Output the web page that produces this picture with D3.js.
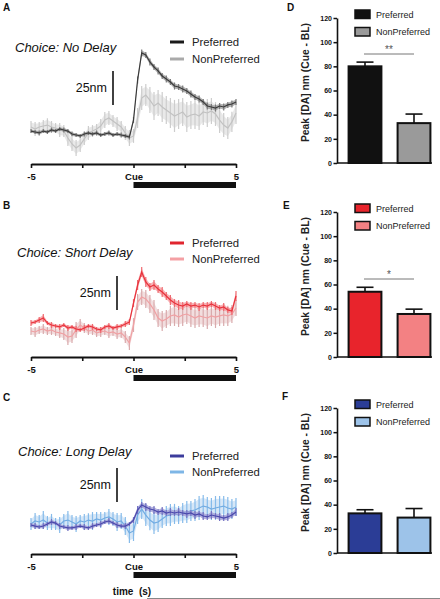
<!DOCTYPE html>
<html>
<head>
<meta charset="utf-8">
<script src="https://cdn.jsdelivr.net/npm/d3@7"></script>
<style>
  html, body { margin: 0; padding: 0; background: #fff; }
  svg { display: block; font-family: "Liberation Sans", Arial, sans-serif; }
</style>
</head>
<body>
<svg id="fig" width="440" height="599"></svg>
<script>
// ---------------- DATA ----------------
const timeSec = [-5,-4.8,-4.6,-4.4,-4.2,-4,-3.8,-3.6,-3.4,-3.2,-3,-2.8,-2.6,-2.4,-2.2,-2,-1.8,-1.6,-1.4,-1.2,-1,-0.8,-0.6,-0.4,-0.2,0,0.2,0.4,0.6,0.8,1,1.2,1.4,1.6,1.8,2,2.2,2.4,2.6,2.8,3,3.2,3.4,3.6,3.8,4,4.2,4.4,4.6,4.8,5];
const timeTicks = [-5, -2.5, 0, 2.5, 5];
const timeTickLabels = ["-5", "", "Cue", "", "5"];

// Panel A: Choice: No Delay (nm)
const noDelayPref = [0.7,0,-0.7,0.7,0,1.5,0.7,2.2,1.5,0.7,-1.5,-2.2,-2.9,-1.5,-0.7,-1.5,-0.7,-2.2,-1.5,-0.7,-2.2,-1.5,-2.2,-2.9,-3.7,8.8,38.2,58.1,56.6,51.5,47.8,44.9,41.2,39,36.8,33.8,33.1,31.6,30.1,27.9,25.7,24.3,22.1,19.1,18.4,17.6,19.1,18.4,19.9,20.6,22.1];
const noDelayPrefSem = [1.5,1.5,1.8,1.5,1.5,1.8,1.5,1.5,1.8,1.5,1.8,1.5,1.5,1.8,1.5,1.5,1.8,1.5,1.5,1.8,1.5,1.5,1.8,1.5,1.8,2.2,2.6,2.6,2.2,2.6,2.2,2.6,2.2,2.6,2.2,2.6,2.2,2.6,2.2,2.6,2.2,2.6,2.2,2.6,2.2,2.6,2.2,2.6,2.2,2.6,2.2];
const noDelayNon = [3.7,2.2,3.7,4.4,5.1,3.7,2.9,1.5,0.7,-4.4,-8.8,-11.8,-9.6,-5.1,-0.7,0.7,2.2,4.4,8.8,10.3,8.1,5.9,3.7,-0.7,-4.4,-2.9,10.3,25,27.2,23.5,19.1,21.3,18.4,16.2,14,11.8,13.2,14.7,11,12.5,13.2,11.8,14.7,14,15.4,13.2,8.8,5.1,2.9,7.4,14];
const noDelayNonSem = [4.4,5.1,3.7,4.4,5.1,4.4,3.7,5.1,4.4,5.9,5.1,5.9,5.1,4.4,5.1,4.4,3.7,5.1,5.9,5.1,4.4,5.1,4.4,5.1,5.9,5.1,7.4,8.8,8.1,9.6,10.3,9.6,11,10.3,11,11.8,11,10.3,11,10.3,11,10.3,9.6,10.3,9.6,8.8,9.6,8.8,8.1,7.4,8.1];

// Panel B: Choice: Short Delay (nm)
const shortDelayPref = [2.2,2.9,4.4,5.9,2.2,0.7,0,-0.7,0.7,-1.5,-0.7,-2.2,-2.9,-1.5,0,-0.7,-2.2,-2.9,-0.7,0,-1.5,-0.7,0,1.5,2.9,16.9,30.1,39.7,32.4,28.7,30.1,27.2,25,22.1,19.1,16.9,15.4,14.7,16.2,14.7,15.4,14,15.4,14.7,16.2,14.7,13.2,14,11.8,11,22.1];
const shortDelayPrefSem = [2.2,1.5,2.2,2.9,1.5,2.2,1.5,2.2,1.5,2.2,1.5,2.2,1.5,2.2,1.5,2.2,1.5,2.2,1.5,2.2,1.5,2.2,1.5,2.2,2.2,2.9,3.7,3.7,3.7,2.9,3.7,2.9,3.7,2.9,3.7,2.9,3.7,2.9,2.2,2.9,2.2,2.9,2.2,2.9,2.2,2.9,2.2,2.9,2.2,2.9,3.7];
const shortDelayNon = [-3.7,-4.4,-2.9,-2.2,-3.7,-2.9,-4.4,-5.1,-5.9,-8.1,-7.4,-2.9,0.7,-1.5,-3.7,-2.9,-5.1,-4.4,-3.7,-5.1,-4.4,-5.9,-5.1,-8.1,-12.5,0.7,17.6,21.3,19.9,16.2,11.8,5.9,3.7,5.1,7.4,8.1,6.6,8.1,8.8,7.4,5.9,7.4,6.6,5.9,7.4,6.6,7.4,8.1,7.4,8.8,13.2];
const shortDelayNonSem = [2.9,3.7,2.9,3.7,2.9,3.7,2.9,3.7,4.4,5.9,5.1,5.9,4.4,3.7,2.9,3.7,2.9,3.7,2.9,3.7,2.9,3.7,3.7,4.4,5.1,5.1,5.9,5.9,6.6,6.6,7.4,6.6,7.4,6.6,7.4,8.1,7.4,8.1,7.4,8.1,7.4,8.1,7.4,8.1,7.4,8.1,7.4,8.1,7.4,6.6,5.9];

// Panel C: Choice: Long Delay (nm)
const longDelayPref = [1.5,0.7,0,0.7,2.2,3.7,2.9,0.7,0,-0.7,-0.7,0,0.7,0,-0.7,0.7,1.5,2.2,3.7,4.4,2.9,1.5,0.7,0.7,2.2,5.1,12.5,16.2,14.7,13.2,12.5,11,11.8,10.3,11,10.3,11,10.3,9.6,10.3,8.8,9.6,8.1,7.4,8.8,8.1,7.4,6.6,7.4,8.8,11];
const longDelayPrefSem = [1.5,2.2,1.5,2.2,1.5,2.2,1.5,2.2,1.5,2.2,1.5,2.2,1.5,2.2,1.5,2.2,1.5,2.2,1.5,2.2,1.5,2.2,1.5,2.2,1.5,2.2,2.9,2.2,2.9,2.2,2.9,2.2,2.9,2.2,2.9,2.2,2.9,2.2,2.9,2.2,2.9,2.2,2.9,2.2,2.9,2.2,2.9,2.2,2.9,2.2,2.9];
const longDelayNon = [2.2,4.4,3.7,5.1,2.9,3.7,2.2,1.5,4.4,5.1,3.7,2.2,4.4,3.7,5.1,4.4,5.9,5.1,6.6,7.4,5.9,3.7,4.4,0.7,-4.4,-2.9,8.8,13.2,8.8,5.1,2.9,3.7,5.9,8.1,8.8,9.6,8.8,10.3,11,11.8,12.5,14,15.4,14.7,13.2,14,14.7,15.4,14,13.2,14.7];
const longDelayNonSem = [4.4,5.9,5.1,6.6,5.1,5.9,4.4,5.9,5.1,6.6,5.1,5.9,4.4,5.9,5.1,6.6,5.1,5.9,4.4,5.9,5.1,6.6,5.9,6.6,7.4,7.4,6.6,7.4,8.1,7.4,8.1,7.4,6.6,7.4,8.1,7.4,6.6,7.4,8.1,7.4,8.1,8.8,8.1,7.4,8.1,8.8,8.1,7.4,8.1,7.4,6.6];

const seriesNames = ["Preferred", "NonPreferred"];
const scaleBarNm = 25;

// Bar panels: Peak [DA] nm (Cue - BL)
const peakTicks = [0, 20, 40, 60, 80, 100, 120];
const peakNoDelay = [80, 33];
const peakNoDelaySem = [3.5, 7.5];
const peakShortDelay = [54, 35.6];
const peakShortDelaySem = [3.7, 4];
const peakLongDelay = [32.8, 29.3];
const peakLongDelaySem = [3, 7.5];

// ---------------- DRAWING ----------------
const svg = d3.select("#fig");
const x = d3.scaleLinear().domain([-5, 5]).range([31, 236]);

const tracePanels = [
  { letter: "A", lx: 3, ly: 10.5, title: "Choice: No Delay", tx: 15, ty: 51.5,
    axisY: 164, baseY: 132, legY: [42, 59], sbX: 113, sbTop: 71,
    pref: noDelayPref, prefSem: noDelayPrefSem, non: noDelayNon, nonSem: noDelayNonSem,
    c: { pl: "#3a3a3a", pe: "#7a7a7a", pa: "#9a9a9a", nl: "#c2c2c2", ne: "#cdcdcd", na: "#e2e2e2", lp: "#1a1a1a", ln: "#aaaaaa" } },
  { letter: "B", lx: 3, ly: 208.5, title: "Choice: Short Delay", tx: 17, ty: 257,
    axisY: 357, baseY: 326, legY: [243, 259], sbX: 117, sbTop: 276,
    pref: shortDelayPref, prefSem: shortDelayPrefSem, non: shortDelayNon, nonSem: shortDelayNonSem,
    c: { pl: "#e8323c", pe: "#ef6a70", pa: "#f59a9d", nl: "#f0a0a3", ne: "#d9aaac", na: "#eed3d4", lp: "#e0252e", ln: "#f4a0a4" } },
  { letter: "C", lx: 3, ly: 400.5, title: "Choice: Long Delay", tx: 18, ty: 456,
    axisY: 554, baseY: 527, legY: [456, 472], sbX: 117, sbTop: 468,
    pref: longDelayPref, prefSem: longDelayPrefSem, non: longDelayNon, nonSem: longDelayNonSem,
    c: { pl: "#4a48ac", pe: "#7472c2", pa: "#9c9ad4", nl: "#72ace2", ne: "#86bbea", na: "#c8dff4", lp: "#3c3c9c", ln: "#7eb6e6" } }
];

tracePanels.forEach(p => {
  const g = svg.append("g");
  const y = d3.scaleLinear().domain([0, 25]).range([p.baseY, p.baseY - 34]);

  g.append("text").attr("x", p.lx).attr("y", p.ly).attr("font-size", 10).attr("font-weight", "bold")
    .attr("fill", "#111").text(p.letter);
  g.append("text").attr("x", p.tx).attr("y", p.ty).attr("font-size", 13).attr("font-style", "italic")
    .attr("fill", "#111").text(p.title);

  // legend
  seriesNames.forEach((name, i) => {
    g.append("line").attr("x1", 170).attr("x2", 184).attr("y1", p.legY[i]).attr("y2", p.legY[i])
      .attr("stroke", i === 0 ? p.c.lp : p.c.ln).attr("stroke-width", 3);
    g.append("text").attr("x", 192).attr("y", p.legY[i]).attr("dy", "0.35em").attr("font-size", 11.3)
      .attr("fill", "#222").text(name);
  });

  // scale bar (25 nm)
  g.append("line").attr("x1", p.sbX).attr("x2", p.sbX)
    .attr("y1", p.sbTop).attr("y2", p.sbTop + (y(0) - y(scaleBarNm)))
    .attr("stroke", "#111").attr("stroke-width", 1.6);
  g.append("text").attr("x", p.sbX - 6).attr("y", p.sbTop + (y(0) - y(scaleBarNm)) / 2).attr("dy", "0.35em")
    .attr("text-anchor", "end").attr("font-size", 12.5).attr("fill", "#111").text("25nm");

  const drawBand = (vals, sem, errCol, areaCol) => {
    g.append("path").datum(timeSec)
      .attr("d", d3.area().x(d => x(d)).y0((d, i) => y(vals[i] - sem[i] * 0.75)).y1((d, i) => y(vals[i] + sem[i] * 0.75)))
      .attr("fill", areaCol).attr("opacity", 0.75);
    g.append("g").selectAll("line").data(timeSec).join("line")
      .attr("x1", (d) => x(d)).attr("x2", (d) => x(d))
      .attr("y1", (d, i) => y(vals[i] - sem[i])).attr("y2", (d, i) => y(vals[i] + sem[i]))
      .attr("stroke", errCol).attr("stroke-width", 1.2);
  };
  const drawMean = (vals, lineCol) => {
    g.append("path").datum(timeSec)
      .attr("d", d3.line().x(d => x(d)).y((d, i) => y(vals[i])))
      .attr("fill", "none").attr("stroke", lineCol).attr("stroke-width", 1.2);
  };
  drawBand(p.non, p.nonSem, p.c.ne, p.c.na);
  drawMean(p.non, p.c.nl);
  drawBand(p.pref, p.prefSem, p.c.pe, p.c.pa);
  drawMean(p.pref, p.c.pl);

  // x axis
  const ax = g.append("g").attr("transform", `translate(0,${p.axisY})`)
    .call(d3.axisBottom(x).tickValues(timeTicks).tickSizeInner(4).tickSizeOuter(0)
      .tickFormat((d, i) => timeTickLabels[i]));
  ax.select(".domain").attr("stroke", "#111").attr("stroke-width", 1.8);
  ax.selectAll(".tick line").attr("stroke", "#111").attr("stroke-width", 1.6);
  ax.selectAll(".tick text").attr("y", 9).attr("font-size", 9.5).attr("font-weight", "bold")
    .attr("fill", "#111").attr("font-family", "Liberation Sans, Arial, sans-serif");

  // cue period bar
  g.append("rect").attr("x", x(0)).attr("width", x(5) - x(0)).attr("y", p.axisY + 18).attr("height", 6)
    .attr("fill", "#111");
});

svg.append("text").attr("x", 132).attr("y", 595).attr("text-anchor", "middle")
  .attr("font-size", 10).attr("font-weight", "bold").attr("fill", "#111")
  .style("white-space", "pre").text("time  (s)");

// bar panels
const barPanels = [
  { letter: "D", lx: 287, ly: 10.5, y0: 163, vals: peakNoDelay, sem: peakNoDelaySem,
    fills: ["#111111", "#9a9a9a"], legY: 10, sig: "**", sigY: 54 },
  { letter: "E", lx: 283, ly: 208.5, y0: 357, vals: peakShortDelay, sem: peakShortDelaySem,
    fills: ["#e8242c", "#f38183"], legY: 204, sig: "*", sigY: 279 },
  { letter: "F", lx: 282, ly: 399.5, y0: 553, vals: peakLongDelay, sem: peakLongDelaySem,
    fills: ["#2b3d96", "#9dc3e9"], legY: 400, sig: null }
];
const bx = d3.scaleBand().domain(seriesNames).range([340.5, 438.5]).paddingInner(0.33).paddingOuter(0.165);

barPanels.forEach(p => {
  const g = svg.append("g");
  const y = d3.scaleLinear().domain([0, 120]).range([p.y0, p.y0 - 145]);
  g.append("text").attr("x", p.lx).attr("y", p.ly).attr("font-size", 10).attr("font-weight", "bold")
    .attr("fill", "#111").text(p.letter);

  // bars
  g.selectAll("rect.bar").data(seriesNames).join("rect").attr("class", "bar")
    .attr("x", d => bx(d)).attr("width", bx.bandwidth())
    .attr("y", (d, i) => y(p.vals[i])).attr("height", (d, i) => y(0) - y(p.vals[i]))
    .attr("fill", (d, i) => p.fills[i]).attr("stroke", "#111").attr("stroke-width", 2);
  // error bars
  seriesNames.forEach((d, i) => {
    const cx = bx(d) + bx.bandwidth() / 2;
    g.append("line").attr("x1", cx).attr("x2", cx).attr("y1", y(p.vals[i])).attr("y2", y(p.vals[i] + p.sem[i]))
      .attr("stroke", "#111").attr("stroke-width", 1.6);
    g.append("line").attr("x1", cx - 8.5).attr("x2", cx + 8.5)
      .attr("y1", y(p.vals[i] + p.sem[i])).attr("y2", y(p.vals[i] + p.sem[i]))
      .attr("stroke", "#111").attr("stroke-width", 1.6);
  });

  // y axis
  const ay = g.append("g").attr("transform", "translate(337,0)")
    .call(d3.axisLeft(y).tickValues(peakTicks).tickSizeInner(3.5).tickSizeOuter(0).tickPadding(1.5));
  ay.select(".domain").attr("stroke", "#111").attr("stroke-width", 1.6);
  ay.selectAll(".tick line").attr("stroke", "#111").attr("stroke-width", 1.5);
  ay.selectAll(".tick text").attr("font-size", 7).attr("font-weight", "bold").attr("fill", "#111")
    .attr("font-family", "Liberation Sans, Arial, sans-serif");
  // x baseline
  g.append("line").attr("x1", 337).attr("x2", 432).attr("y1", y(0)).attr("y2", y(0))
    .attr("stroke", "#111").attr("stroke-width", 1.6);

  // y title
  g.append("text").attr("transform", `translate(309,${(y(0) + y(120)) / 2 - 8}) rotate(-90)`)
    .attr("text-anchor", "middle").attr("font-size", 10.3).attr("font-weight", "bold").attr("fill", "#222")
    .text("Peak [DA] nm (Cue - BL)");

  // legend
  seriesNames.forEach((name, i) => {
    const ly = p.legY + i * 17.5;
    g.append("rect").attr("x", 355).attr("y", ly).attr("width", 15).attr("height", 8.5)
      .attr("fill", p.fills[i]).attr("stroke", "#111").attr("stroke-width", 1.5);
    g.append("text").attr("x", 376).attr("y", ly + 4.5).attr("dy", "0.35em").attr("font-size", 9)
      .attr("fill", "#222").text(name);
  });

  // significance
  if (p.sig) {
    g.append("line").attr("x1", 364).attr("x2", 414).attr("y1", p.sigY).attr("y2", p.sigY)
      .attr("stroke", "#666").attr("stroke-width", 0.9);
    g.append("text").attr("x", 389).attr("y", p.sigY - 1.5).attr("text-anchor", "middle")
      .attr("font-size", 10).attr("fill", "#555").text(p.sig);
  }
});

// bottom rule
svg.append("line").attr("x1", 147).attr("x2", 440).attr("y1", 598.5).attr("y2", 598.5)
  .attr("stroke", "#888").attr("stroke-width", 1);
</script>
</body>
</html>
